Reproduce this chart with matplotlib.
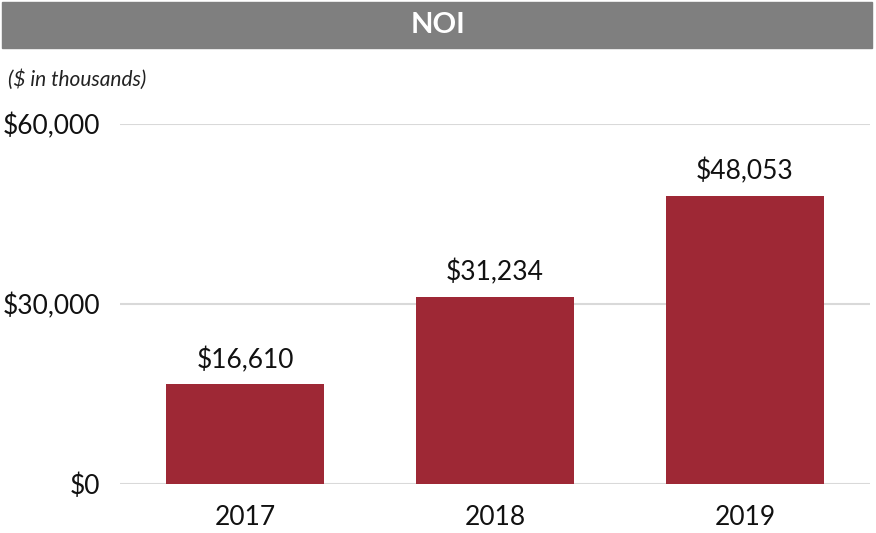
import matplotlib.pyplot as plt
from matplotlib.patches import Rectangle

plt.rcParams['font.family'] = ['Lato', 'DejaVu Sans']

years = ['2017', '2018', '2019']
noi = [16610, 31234, 48053]
y_ticks = [0, 30000, 60000]

fig = plt.figure(figsize=(8.76, 5.33), dpi=100)

# grey title bar
fig.patches.append(Rectangle((2 / 876, 1 - 48 / 533), 870 / 876, 46 / 533,
                             transform=fig.transFigure, color='#7F7F7F', zorder=0))
fig.text(0.5, 1 - 25 / 533, 'NOI', color='white', fontsize=21, fontweight='bold',
         ha='center', va='center')
fig.text(8 / 876, 1 - 80 / 533, '($ in thousands)', fontsize=15, style='italic',
         color='#222222', ha='left', va='center')

ax = fig.add_axes([120 / 876, 1 - 484 / 533, 750 / 876, 360 / 533])
ax.bar(range(len(years)), noi, width=0.63, color='#9E2835', zorder=3)

for i, v in enumerate(noi):
    ax.annotate(f'${v:,}', (i, v), xytext=(0, 8), textcoords='offset points',
                ha='center', va='bottom', fontsize=19, color='#111111')

ax.set_xlim(-0.5, 2.5)
ax.set_ylim(0, 60000)
ax.set_xticks(range(len(years)))
ax.set_xticklabels(years)
ax.set_yticks(y_ticks)
ax.set_yticklabels([f'${t:,}' for t in y_ticks])
ax.tick_params(length=0, labelsize=19, colors='#111111')
ax.tick_params(axis='y', pad=14)
ax.tick_params(axis='x', pad=15)
ax.grid(axis='y', color='#D9D9D9', linewidth=1.5, zorder=0)
ax.set_axisbelow(True)
for s in ax.spines.values():
    s.set_visible(False)

plt.savefig('out.png', dpi=100)
plt.close()
